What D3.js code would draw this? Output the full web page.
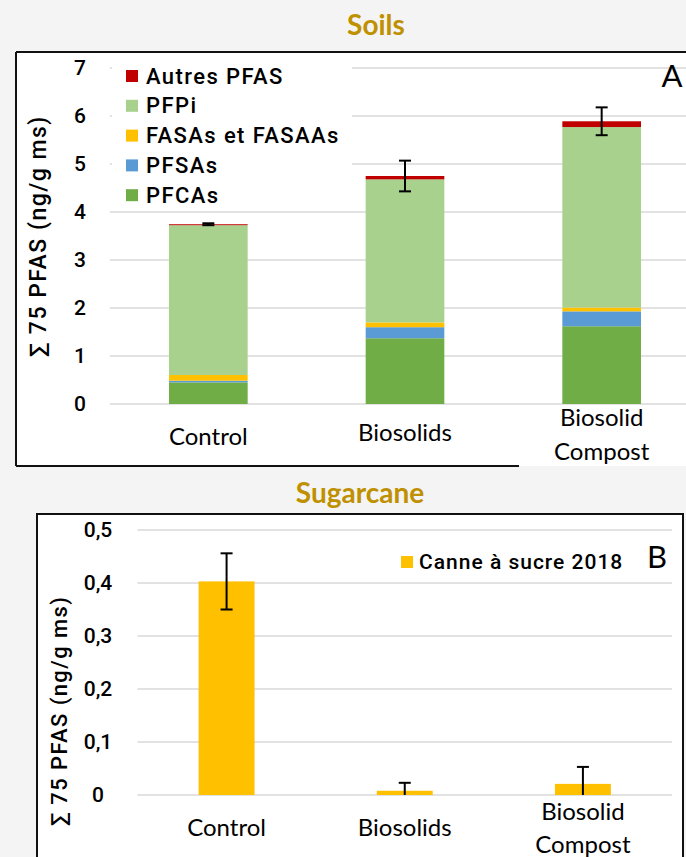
<!DOCTYPE html>
<html><head><meta charset="utf-8">
<script src="https://cdn.jsdelivr.net/npm/d3@7"></script>
<style>
html,body{margin:0;padding:0;background:#f4f4f4;}
svg{display:block;}
</style></head>
<body>
<svg id="chart" width="686" height="857"></svg>
<script>
// ---------- DATA ----------
const categories = ["Control", "Biosolids", "Biosolid Compost"];
const soilSeries = ["PFCAs", "PFSAs", "FASAs et FASAAs", "PFPi", "Autres PFAS"];
const pfcas  = [0.45, 1.37, 1.62];
const pfsas  = [0.035, 0.23, 0.31];
const fasas  = [0.12, 0.10, 0.08];
const pfpi   = [3.12, 2.98, 3.76];
const autres = [0.02, 0.07, 0.12];
const soilErr = [0.02, 0.32, 0.29];
const soilTicks = [0, 1, 2, 3, 4, 5, 6, 7];

const caneSeries = "Canne à sucre 2018";
const caneValues = [0.403, 0.008, 0.021];
const caneErr = [0.053, 0.015, 0.032];
const caneTicks = [0, 0.1, 0.2, 0.3, 0.4, 0.5];

const soilColors = ["#70AD47", "#5B9BD5", "#FFC000", "#A9D18E", "#C00000"];
const caneColor = "#FFC000";

// ---------- SETUP ----------
const svg = d3.select("#chart");
const gold = "#BF9000";
const dinFont = "Roboto, 'DejaVu Sans', sans-serif";
const calFont = "Lato, 'Open Sans', sans-serif";

svg.append("rect").attr("width", 686).attr("height", 857).attr("fill", "#f4f4f4");

// ================= PANEL A : SOILS =================
svg.append("text").text("Soils")
  .attr("x", 376).attr("y", 35).attr("text-anchor", "middle")
  .attr("font-family", calFont).attr("font-weight", 700).attr("font-size", 28)
  .attr("fill", gold);

const pA = svg.append("g");
pA.append("rect").attr("x", 16).attr("y", 52).attr("width", 700).attr("height", 414).attr("fill", "#fff");

const xA = d3.scaleBand().domain(categories).range([110, 700]).paddingInner(0.6).paddingOuter(0.3);
const yA = d3.scaleLinear().domain([0, 7]).range([404, 68]);

// gridlines
pA.append("g").selectAll("line").data(soilTicks).join("line")
  .attr("x1", 110).attr("x2", 700)
  .attr("y1", d => yA(d)).attr("y2", d => yA(d))
  .attr("stroke", "#d9d9d9").attr("stroke-width", 1.5);

// legend background (covers gridlines)
pA.append("rect").attr("x", 112).attr("y", 56).attr("width", 240).attr("height", 150).attr("fill", "#fff");

// stacked bars
const soilRows = categories.map((c, i) => ({
  cat: c, PFCAs: pfcas[i], PFSAs: pfsas[i], "FASAs et FASAAs": fasas[i], PFPi: pfpi[i], "Autres PFAS": autres[i]
}));
const stack = d3.stack().keys(soilSeries)(soilRows);
pA.append("g").selectAll("g").data(stack).join("g")
  .attr("fill", (d, i) => soilColors[i])
  .selectAll("rect").data(d => d).join("rect")
  .attr("x", d => xA(d.data.cat)).attr("width", xA.bandwidth())
  .attr("y", d => yA(d[1])).attr("height", d => yA(d[0]) - yA(d[1]));

// error bars
const totals = soilRows.map(r => soilSeries.reduce((s, k) => s + r[k], 0));
const eA = pA.append("g").attr("stroke", "#000").attr("stroke-width", 2);
categories.forEach((c, i) => {
  const cx = xA(c) + xA.bandwidth() / 2;
  const hi = yA(totals[i] + soilErr[i]), lo = yA(totals[i] - soilErr[i]);
  eA.append("line").attr("x1", cx).attr("x2", cx).attr("y1", hi).attr("y2", lo);
  eA.append("line").attr("x1", cx - 6).attr("x2", cx + 6).attr("y1", hi).attr("y2", hi);
  eA.append("line").attr("x1", cx - 6).attr("x2", cx + 6).attr("y1", lo).attr("y2", lo);
});

// y axis labels
const axA = pA.append("g").attr("transform", "translate(80,0)")
  .call(d3.axisLeft(yA).tickValues(soilTicks).tickSize(0).tickFormat(d3.format("d")));
axA.select(".domain").remove();
axA.selectAll("text").attr("x", 0).attr("text-anchor", "middle")
  .attr("font-family", dinFont).attr("font-weight", 500).attr("font-size", 21).attr("fill", "#000");

// y axis title
pA.append("text").text("∑ 75 PFAS (ng/g ms)")
  .attr("transform", "translate(40,236) rotate(-90)").attr("text-anchor", "middle")
  .attr("dominant-baseline", "middle")
  .attr("font-family", dinFont).attr("font-weight", 500).attr("font-size", 23).attr("letter-spacing", 1.5)
  .attr("fill", "#000");

// category labels
const catLinesA = [["Control"], ["Biosolids"], ["Biosolid", "Compost"]];
const catYA = [[445], [441], [426, 460]];
categories.forEach((c, i) => {
  catLinesA[i].forEach((t, j) => {
    pA.append("text").text(t).attr("x", xA(c) + xA.bandwidth() / 2).attr("y", catYA[i][j])
      .attr("text-anchor", "middle").attr("font-family", calFont).attr("font-size", 24).attr("fill", "#000");
  });
});

// legend
const legA = pA.append("g");
const legOrder = soilSeries.slice().reverse();
legOrder.forEach((s, i) => {
  const cy = 76 + i * 29.8;
  legA.append("rect").attr("x", 126).attr("y", cy - 6).attr("width", 12).attr("height", 12)
    .attr("fill", soilColors[soilSeries.indexOf(s)]);
  legA.append("text").text(s).attr("x", 146).attr("y", cy).attr("dominant-baseline", "central")
    .attr("font-family", dinFont).attr("font-weight", 500).attr("font-size", 22).attr("letter-spacing", 1.4)
    .attr("fill", "#000");
});

pA.append("text").text("A").attr("x", 672).attr("y", 87).attr("text-anchor", "middle")
  .attr("font-family", calFont).attr("font-size", 31).attr("fill", "#000");

// borders
pA.append("path").attr("d", "M16,52 L700,52 M16,52 L16,466 M16,466 L519,466")
  .attr("stroke", "#111").attr("stroke-width", 2).attr("fill", "none");

// ================= PANEL B : SUGARCANE =================
svg.append("text").text("Sugarcane")
  .attr("x", 360).attr("y", 503).attr("text-anchor", "middle")
  .attr("font-family", calFont).attr("font-weight", 700).attr("font-size", 28)
  .attr("fill", gold);

const pB = svg.append("g");
pB.append("rect").attr("x", 37).attr("y", 514).attr("width", 646).attr("height", 360)
  .attr("fill", "#fff").attr("stroke", "#111").attr("stroke-width", 2);

const xB = d3.scaleBand().domain(categories).range([137.5, 672]).paddingInner(0.686).paddingOuter(0.343);
const yB = d3.scaleLinear().domain([0, 0.5]).range([795, 530]);

pB.append("g").selectAll("line").data(caneTicks).join("line")
  .attr("x1", 137.5).attr("x2", 672)
  .attr("y1", d => yB(d)).attr("y2", d => yB(d))
  .attr("stroke", "#d9d9d9").attr("stroke-width", 1.5);

pB.append("g").selectAll("rect").data(caneValues).join("rect")
  .attr("x", (d, i) => xB(categories[i])).attr("width", xB.bandwidth())
  .attr("y", d => yB(d)).attr("height", d => yB(0) - yB(d)).attr("fill", caneColor);

const eB = pB.append("g").attr("stroke", "#000").attr("stroke-width", 2);
caneValues.forEach((v, i) => {
  const cx = xB(categories[i]) + xB.bandwidth() / 2;
  const hi = yB(v + caneErr[i]);
  const loV = v - caneErr[i];
  const lo = yB(Math.max(0, loV));
  eB.append("line").attr("x1", cx).attr("x2", cx).attr("y1", hi).attr("y2", lo);
  eB.append("line").attr("x1", cx - 6).attr("x2", cx + 6).attr("y1", hi).attr("y2", hi);
  if (loV >= 0) eB.append("line").attr("x1", cx - 6).attr("x2", cx + 6).attr("y1", lo).attr("y2", lo);
});

const fmtB = d => d === 0 ? "0" : d3.format(".1f")(d).replace(".", ",");
const axB = pB.append("g").attr("transform", "translate(98,0)")
  .call(d3.axisLeft(yB).tickValues(caneTicks).tickSize(0).tickFormat(fmtB));
axB.select(".domain").remove();
axB.selectAll("text").attr("x", 0).attr("text-anchor", "middle")
  .attr("font-family", dinFont).attr("font-weight", 500).attr("font-size", 21).attr("fill", "#000");

pB.append("text").text("∑ 75 PFAS (ng/g ms)")
  .attr("transform", "translate(61,711) rotate(-90)").attr("text-anchor", "middle")
  .attr("dominant-baseline", "middle")
  .attr("font-family", dinFont).attr("font-weight", 500).attr("font-size", 22).attr("letter-spacing", 1.4)
  .attr("fill", "#000");

const catYB = [[836], [836], [820, 853]];
categories.forEach((c, i) => {
  catLinesA[i].forEach((t, j) => {
    pB.append("text").text(t).attr("x", xB(c) + xB.bandwidth() / 2).attr("y", catYB[i][j])
      .attr("text-anchor", "middle").attr("font-family", calFont).attr("font-size", 24).attr("fill", "#000");
  });
});

pB.append("rect").attr("x", 401).attr("y", 556).attr("width", 12).attr("height", 12).attr("fill", caneColor);
pB.append("text").text(caneSeries).attr("x", 419).attr("y", 562).attr("dominant-baseline", "central")
  .attr("font-family", dinFont).attr("font-weight", 500).attr("font-size", 21).attr("letter-spacing", 1.0)
  .attr("fill", "#000");
pB.append("text").text("B").attr("x", 657).attr("y", 568).attr("text-anchor", "middle")
  .attr("font-family", calFont).attr("font-size", 31).attr("fill", "#000");
</script>
</body></html>
